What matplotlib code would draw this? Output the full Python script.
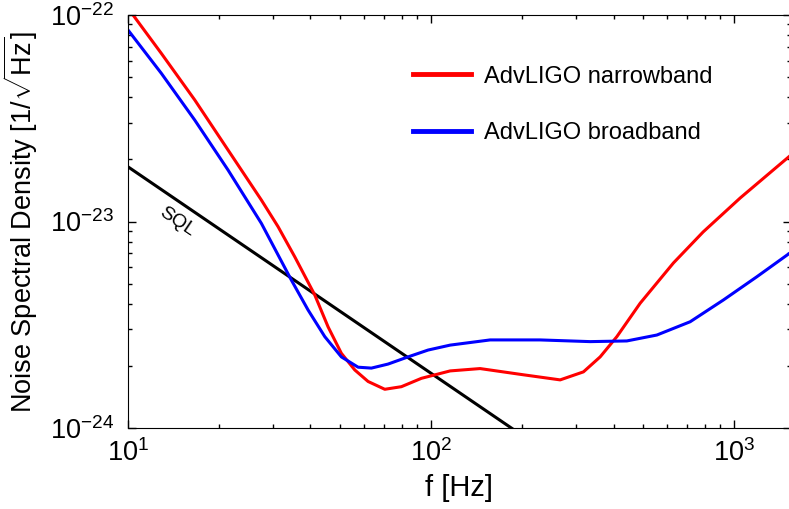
import matplotlib
matplotlib.use("Agg")
import matplotlib.pyplot as plt
from matplotlib.ticker import FixedLocator, NullFormatter, LogFormatterSciNotation

plt.rcParams["font.family"] = ["Liberation Sans", "DejaVu Sans"]
plt.rcParams["mathtext.fontset"] = "custom"
plt.rcParams["mathtext.rm"] = "Liberation Sans"
plt.rcParams["mathtext.it"] = "Liberation Sans:italic"
plt.rcParams["mathtext.bf"] = "Liberation Sans:bold"

# AdvLIGO narrowband
nb_f = [10.0, 10.39, 12.88, 16.60, 21.38, 27.54, 31.27, 35.49, 41.32, 45.72,
        50.58, 56.01, 61.96, 70.35, 79.80, 92.91, 115.6, 145.1, 201.7, 266.6,
        318.2, 361.3, 410.2, 489.6, 630.5, 790, 1047, 1348, 1540]
nb_s = [1.09e-22, 1.00e-22, 6.52e-23, 3.88e-23, 2.22e-23, 1.271e-23, 9.44e-24,
        6.75e-24, 4.41e-24, 3.09e-24, 2.30e-24, 1.91e-24, 1.68e-24, 1.54e-24,
        1.585e-24, 1.74e-24, 1.89e-24, 1.94e-24, 1.81e-24, 1.71e-24, 1.87e-24,
        2.21e-24, 2.77e-24, 4.02e-24, 6.30e-24, 8.9e-24, 1.30e-23, 1.78e-23,
        2.10e-23]

# AdvLIGO broadband
bb_f = [10.0, 12.88, 16.60, 21.38, 27.54, 34.58, 39.27, 44.59, 50.58, 57.43,
        63.53, 72.13, 83.97, 97.75, 115.6, 156.6, 228.9, 334.9, 442.5, 555.9,
        715.9, 921.8, 1188, 1540]
bb_s = [8.46e-23, 5.22e-23, 3.10e-23, 1.776e-23, 9.80e-24, 5.21e-24, 3.73e-24,
        2.77e-24, 2.21e-24, 1.97e-24, 1.95e-24, 2.04e-24, 2.21e-24, 2.385e-24,
        2.52e-24, 2.67e-24, 2.67e-24, 2.62e-24, 2.64e-24, 2.82e-24, 3.27e-24,
        4.17e-24, 5.40e-24, 7.10e-24]

# standard quantum limit
sql_f = [10.0, 200.0]
sql_s = [1.84e-23, 9.2e-25]

x_major = [10, 100, 1000]
y_major = [1e-24, 1e-23, 1e-22]

fig = plt.figure(figsize=(7.89, 5.09), dpi=100)
ax = fig.add_axes([128 / 789, 81 / 509, 663 / 789, 413 / 509])

ax.plot(sql_f, sql_s, color="black", lw=2.2)
ax.plot(nb_f, nb_s, color="red", lw=2.2, label="AdvLIGO narrowband")
ax.plot(bb_f, bb_s, color="blue", lw=2.2, label="AdvLIGO broadband")

ax.set_xscale("log")
ax.set_yscale("log")
ax.set_xlim(10, 1540)
ax.set_ylim(1e-24, 1e-22)

ax.text(14.5, 9.95e-24, "SQL", rotation=-34, ha="center", va="center",
        rotation_mode="anchor", fontsize=14)

ax.set_xlabel("f [Hz]", fontsize=21, labelpad=5)
ax.set_ylabel(r"Noise Spectral Density [1/$\sqrt{\mathrm{Hz}}$]", fontsize=19.5)
ax.yaxis.set_label_coords(-0.133, 0.50)

ax.xaxis.set_major_locator(FixedLocator(x_major))
ax.yaxis.set_major_locator(FixedLocator(y_major))
ax.xaxis.set_major_formatter(LogFormatterSciNotation())
ax.yaxis.set_major_formatter(LogFormatterSciNotation())
x_minor = [m * d for d in (10, 100, 1000) for m in range(2, 10) if m * d <= 1540]
y_minor = [m * d for d in (1e-24, 1e-23) for m in range(2, 10)]
ax.xaxis.set_minor_locator(FixedLocator(x_minor))
ax.yaxis.set_minor_locator(FixedLocator(y_minor))
ax.xaxis.set_minor_formatter(NullFormatter())
ax.yaxis.set_minor_formatter(NullFormatter())
ax.tick_params(which="both", direction="in", top=True, right=True,
               labelsize=19.5, width=1)
ax.tick_params(which="major", length=6)
ax.tick_params(which="minor", length=3)
ax.tick_params(axis="x", pad=8)
ax.tick_params(axis="y", pad=10)

leg = ax.legend(loc="upper left", bbox_to_anchor=(0.412, 0.906), frameon=False,
                fontsize=17, handlelength=2.45, handletextpad=0.55,
                labelspacing=1.47, borderpad=0)
for line in leg.get_lines():
    line.set_linewidth(3.5)

fig.savefig("out.png", dpi=100)
